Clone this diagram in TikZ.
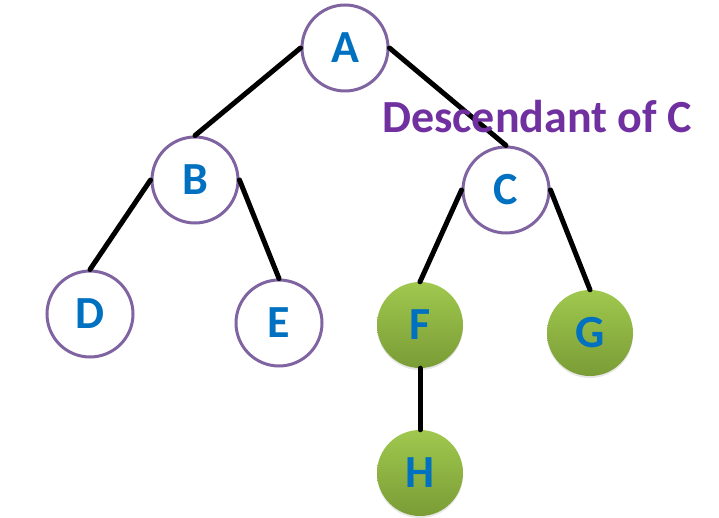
\documentclass[tikz,border=0pt]{standalone}
\usepackage{fontspec}
\setmainfont{Carlito}
\usetikzlibrary{shadows}
\definecolor{ringpurple}{RGB}{128,100,162}
\definecolor{letterblue}{RGB}{0,112,192}
\definecolor{notepurple}{RGB}{112,48,160}
\definecolor{leaftop}{RGB}{160,200,78}
\definecolor{leafbot}{RGB}{122,156,54}
\begin{document}
\begin{tikzpicture}[x=1pt, y=-1pt, line cap=round,
		vertex/.style={circle, minimum size=86pt, inner sep=0pt, font=\fontsize{46}{46}\selectfont\bfseries, text=letterblue},
		plain/.style={vertex, draw=ringpurple, line width=3pt, fill=white},
		desc/.style={vertex, top color=leaftop, bottom color=leafbot, drop shadow={opacity=0.2, shadow xshift=0pt, shadow yshift=-2pt}},
		branch/.style={line width=5pt, black}]
			\useasboundingbox (0,0) rectangle (719,518);
			
			\node[plain] (A) at (345,48) {A};
			\node[plain] (B) at (195,180) {B};
			\node[plain] (C) at (506,190) {C};
			\node[plain] (D) at (90,314) {D};
			\node[plain] (E) at (279,323) {E};
			\node[desc] (F) at (420,325) {F};
			\node[desc] (G) at (590,333) {G};
			\node[desc] (H) at (420,473) {H};
			
			\draw[branch] (A.west) -- (B.north);
			\draw[branch] (A.east) -- (C.north);
			\draw[branch] (B.west) -- (D.north);
			\draw[branch] (B.east) -- (E.north);
			\draw[branch] (C.west) -- (F.north);
			\draw[branch] (C.east) -- (G.north);
			\draw[branch] (F.south) -- (H.north);
			
			\node[font=\fontsize{46}{46}\selectfont\bfseries, text=notepurple] (note) at (537,117) {Descendant of C};
		\end{tikzpicture}
\end{document}
